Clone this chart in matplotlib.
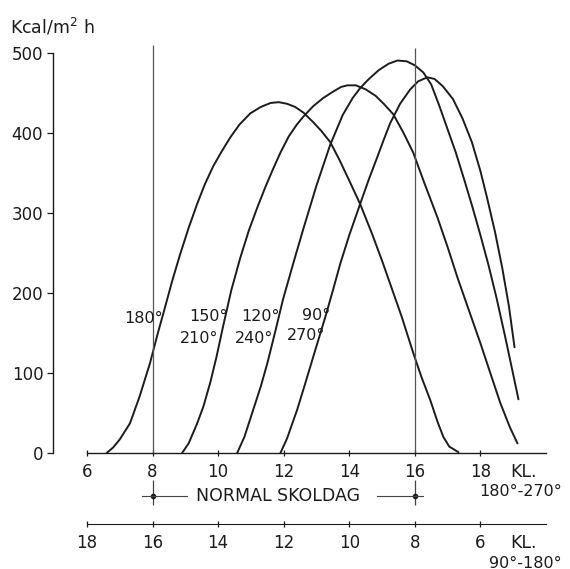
import matplotlib
matplotlib.use("Agg")
import matplotlib.pyplot as plt

plt.rcParams['font.family'] = ['DejaVu Sans']

# hours (clock, 180-270 deg scale) and radiation Kcal/m2 h
hours_180 = [6.6, 6.8, 7.0, 7.31, 7.6, 7.92, 8.15, 8.38, 8.6, 8.84, 9.1, 9.36, 9.6, 9.85,
             10.1, 10.37, 10.65, 10.98, 11.3, 11.6, 11.85, 12.1, 12.35, 12.6, 12.9, 13.15,
             13.42, 13.7, 14.0, 14.34, 14.7, 15.0, 15.3, 15.6, 15.95, 16.2, 16.47, 16.7,
             16.87, 17.05, 17.33]
kcal_180 = [0, 7, 17, 37, 70, 112, 148, 182, 215, 248, 281, 311, 336, 358,
            376, 394, 410, 424, 432, 437, 438, 436, 432, 425, 413, 402,
            388, 366, 340, 310, 273, 240, 205, 170, 125, 95, 66, 38,
            20, 8, 1]

hours_150 = [8.9, 9.1, 9.36, 9.55, 9.76, 9.95, 10.15, 10.4, 10.67, 10.93, 11.19, 11.45,
             11.68, 11.9, 12.15, 12.4, 12.6, 12.9, 13.2, 13.5, 13.75, 13.94, 14.2, 14.5,
             14.8, 15.05, 15.34, 15.65, 15.95, 16.3, 16.69, 17.0, 17.3, 17.65, 18.0, 18.3,
             18.61, 18.9, 19.13]
kcal_150 = [0, 12, 37, 58, 88, 120, 158, 203, 243, 277, 306, 333,
            355, 375, 395, 410, 420, 433, 443, 451, 457, 459, 459, 454,
            446, 436, 423, 400, 375, 336, 294, 257, 219, 178, 137, 100,
            62, 32, 12]

hours_120 = [10.58, 10.8, 11.07, 11.3, 11.5, 11.75, 11.98, 12.3, 12.6, 13.0, 13.42, 13.8,
             14.1, 14.34, 14.6, 14.9, 15.2, 15.47, 15.75, 16.0, 16.26, 16.5, 16.75, 17.0,
             17.25, 17.5, 17.75, 18.0, 18.25, 18.5, 18.75, 19.0, 19.16]
kcal_120 = [0, 20, 54, 83, 112, 153, 192, 238, 280, 334, 385, 422,
            443, 456, 467, 478, 486, 490, 489, 484, 475, 460, 433, 404,
            375, 342, 308, 272, 234, 192, 146, 98, 67]

hours_90 = [11.9, 12.1, 12.41, 12.65, 12.9, 13.1, 13.27, 13.5, 13.73, 14.0, 14.34, 14.6,
            14.85, 15.05, 15.25, 15.55, 15.86, 16.1, 16.38, 16.6, 16.85, 17.16, 17.45,
            17.74, 18.0, 18.2, 18.45, 18.67, 18.87, 19.04]
kcal_90 = [0, 18, 54, 86, 120, 147, 170, 203, 237, 272, 312, 342,
           369, 391, 412, 436, 454, 464, 469, 467, 458, 442, 418,
           388, 352, 319, 275, 230, 183, 132]

yticks = [0, 100, 200, 300, 400, 500]
xticks = [6, 8, 10, 12, 14, 16, 18]
school_day = [8, 16]

ink = '#1c1c1c'

fig = plt.figure(figsize=(5.7, 5.69), dpi=100)
ax = fig.add_axes([87 / 570, 116 / 569, 459 / 570, 400.5 / 569])
ax.set_xlim(6, 20)
ax.set_ylim(0, 500)

for h, k in [(hours_180, kcal_180), (hours_150, kcal_150),
             (hours_120, kcal_120), (hours_90, kcal_90)]:
    ax.plot(h, k, color=ink, lw=1.4, solid_capstyle='round', solid_joinstyle='round')

# school day verticals
ax.vlines(school_day, 0, [509, 505], color='#555555', lw=0.9, clip_on=False)

# axes styling
for s in ['top', 'right']:
    ax.spines[s].set_visible(False)
ax.spines['left'].set_position(('outward', 24.5))
ax.spines['left'].set_bounds(0, 500)
ax.spines['left'].set_color(ink)
ax.spines['bottom'].set_color(ink)
ax.spines['left'].set_linewidth(1.0)
ax.spines['bottom'].set_linewidth(1.0)

ax.set_yticks(yticks)
ax.set_xticks(xticks)
ax.tick_params(axis='y', direction='out', length=4, width=0.9, pad=3, labelsize=12, colors=ink)
ax.tick_params(axis='x', direction='inout', length=5, width=0.9, pad=5, labelsize=12, colors=ink)

# second clock scale for 90-180 deg
ax2 = ax.secondary_xaxis(-0.1773, functions=(lambda h: 24 - h, lambda h: 24 - h))
ax2.set_xticks(xticks)
ax2.spines['bottom'].set_color(ink)
ax2.tick_params(direction='inout', length=5, width=0.9, pad=5, labelsize=12, colors=ink)

# orientation labels on the curves
lbl = dict(fontsize=11.5, color=ink, ha='right', va='center')
ax.text(8.32, 168, '180°', **lbl)
ax.text(10.3, 170, '150°', **lbl)
ax.text(10.0, 143, '210°', **lbl)
ax.text(11.89, 170, '120°', **lbl)
ax.text(11.68, 143, '240°', **lbl)
ax.text(13.41, 172, '90°', **lbl)
ax.text(13.26, 147, '270°', **lbl)

# normal school day marker row
row = -53.6
ax.vlines(school_day, -34, -65, color='#444444', lw=0.9, clip_on=False)
ax.plot(school_day, [row, row], 'o', ms=3, color=ink, clip_on=False)
ax.plot([7.68, 9.05], [row, row], color='#444444', lw=0.8, clip_on=False)
ax.plot([14.85, 16.25], [row, row], color='#444444', lw=0.8, clip_on=False)
ax.text(11.84, row, 'NORMAL SKOLDAG', fontsize=12.5, color=ink, ha='center', va='center')

fig.text(10 / 570, 1 - 27 / 569, 'Kcal/m$^2$ h', fontsize=12.5, color=ink, va='center')
fig.text(510 / 570, 1 - 472 / 569, 'KL.', fontsize=12.5, color=ink, va='center')
fig.text(562 / 570, 1 - 492 / 569, '180°-270°', fontsize=11.5, color=ink, va='center', ha='right')
fig.text(510 / 570, 1 - 543 / 569, 'KL.', fontsize=12.5, color=ink, va='center')
fig.text(562 / 570, 1 - 563 / 569, '90°-180°', fontsize=11.5, color=ink, va='center', ha='right')

fig.savefig('out.png', dpi=100)
